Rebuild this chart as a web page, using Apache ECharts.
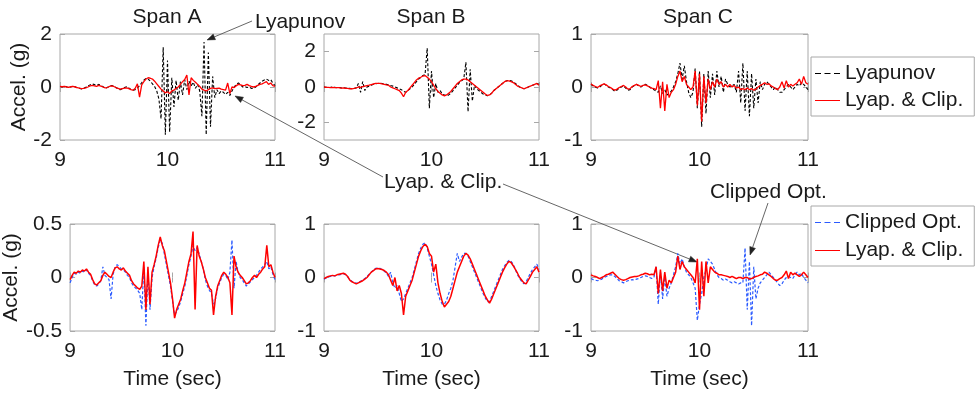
<!DOCTYPE html>
<html><head><meta charset="utf-8">
<script src="https://cdn.jsdelivr.net/npm/echarts@6/dist/echarts.min.js"></script>
<style>html,body{margin:0;padding:0;background:#fff}#c{width:977px;height:397px}</style>
</head><body><div id="c"></div><script>
// sampling: t = 9 + 0.02*i, i = 0..100
const T0 = 9, DT = 0.02;
const xTicks = [9, 10, 11];
const titles = ['Span A', 'Span B', 'Span C'];
const yTicksTopA = [-2, 0, 2];
const yTicksTopB = [-2, 0, 2];
const yTicksTopC = [-1, 0, 1];
const yTicksBotA = [-0.5, 0, 0.5];
const yTicksBotB = [-1, 0, 1];
const yTicksBotC = [-1, 0, 1];

// Top row: Lyapunov (black dashed) and Lyap. & Clip. (red)
const lyapA = [0.02,0.0,0.03,0.01,-0.02,0.0,0.03,0.01,-0.03,-0.05,
 -0.07,-0.05,-0.01,0.04,0.08,0.12,0.09,0.05,0.1,0.06,
 0.01,-0.04,-0.02,0.03,0.06,0.03,-0.02,-0.07,-0.1,-0.06,
 -0.02,0.01,-0.04,-0.09,-0.12,-0.1,-0.04,0.05,0.16,0.26,
 0.32,0.3,0.22,0.12,0.02,-0.15,-0.45,-1.2,1.5,-1.8,
 1.0,-1.7,0.35,-0.75,0.25,-0.5,0.2,-0.3,0.28,-0.1,
 0.22,0.05,0.18,-0.05,0.1,-0.15,-1.1,1.7,-1.8,1.3,
 -1.5,0.4,-0.4,-0.1,-0.25,-0.15,-0.2,-0.28,-0.2,-0.32,
 -0.15,0.0,0.1,0.15,0.08,0.0,0.02,-0.02,0.0,-0.05,
 -0.05,0.0,0.08,0.15,0.22,0.26,0.3,0.25,0.28,0.15,
 0.05];
const lcTopA = [0.02,0.01,0.02,0.0,-0.01,0.01,0.02,0.0,-0.02,-0.04,
 -0.06,-0.05,-0.03,0.0,0.04,0.06,0.04,0.02,0.06,0.03,
 0.0,-0.03,-0.02,0.02,0.04,0.02,-0.02,-0.05,-0.08,-0.06,
 -0.04,-0.03,-0.06,-0.1,-0.12,-0.05,0.12,-0.38,0.08,0.2,
 0.3,0.35,0.33,0.3,0.22,0.12,0.02,-0.08,-0.15,-0.22,
 -0.18,-0.25,-0.15,-0.12,-0.05,0.0,0.1,0.2,0.28,0.45,
 -0.3,0.35,0.25,0.18,0.1,0.02,-0.08,-0.12,-0.15,-0.1,
 -0.05,-0.03,-0.06,-0.05,-0.04,-0.08,-0.1,-0.12,0.15,-0.25,
 0.0,-0.02,0.05,0.1,0.08,0.05,0.06,0.1,0.05,0.02,
 0.0,0.02,0.06,0.1,0.12,0.16,0.2,0.1,0.15,0.05,
 0.02];
const lyapB = [0.0,-0.02,-0.03,-0.02,0.0,-0.02,-0.04,-0.03,-0.05,-0.04,
 -0.06,-0.05,-0.08,-0.1,-0.08,-0.05,0.2,-0.3,0.3,-0.2,
 0.0,0.05,0.1,0.15,0.18,0.2,0.22,0.2,0.18,0.15,
 0.12,0.08,0.05,0.0,-0.05,-0.1,-0.15,-0.25,-0.3,-0.2,
 -0.1,0.0,0.15,0.3,0.45,0.55,0.65,0.7,2.2,-1.2,
 0.9,-0.6,0.2,-0.3,-0.2,-0.4,-0.45,-0.5,-0.45,-0.35,
 -0.2,-0.05,0.1,0.25,0.35,0.45,1.4,-1.4,1.0,-0.8,
 0.1,-0.1,-0.2,-0.3,-0.4,-0.45,-0.5,-0.45,-0.35,-0.2,
 -0.1,0.0,0.1,0.2,0.3,0.35,0.38,0.35,0.3,0.2,
 0.1,0.0,-0.05,-0.1,-0.08,0.0,0.05,0.1,0.15,0.2,
 0.15];
const lcTopB = [0.0,-0.02,-0.02,-0.03,-0.02,-0.03,-0.04,-0.04,-0.06,-0.05,
 -0.07,-0.08,-0.1,-0.1,-0.08,-0.05,0.0,-0.02,0.02,0.05,
 0.08,0.1,0.14,0.17,0.2,0.2,0.2,0.18,0.15,0.12,
 0.1,0.0,-0.05,-0.1,-0.15,-0.2,-0.35,-0.55,-0.3,-0.2,
 -0.05,0.1,0.25,0.4,0.5,0.55,0.62,0.65,0.55,0.45,
 0.3,0.1,-0.1,-0.25,-0.35,-0.45,-0.5,-0.45,-0.35,-0.25,
 -0.1,0.05,0.2,0.3,0.4,0.45,0.45,0.4,0.3,0.2,
 0.1,0.0,-0.1,-0.2,-0.3,-0.4,-0.48,-0.45,-0.35,-0.2,
 -0.1,0.0,0.1,0.2,0.3,0.35,0.35,0.3,0.25,0.15,
 0.05,0.0,-0.05,-0.1,-0.05,0.0,0.05,0.1,0.15,0.2,
 0.1];
const lyapC = [0.05,0.02,0.0,-0.02,0.0,0.03,0.06,0.03,0.0,-0.02,
 -0.05,-0.08,-0.06,-0.02,0.0,0.02,-0.02,-0.06,-0.05,0.0,
 0.03,0.05,0.02,0.0,0.03,0.05,0.03,0.0,-0.03,-0.05,
 -0.08,-0.1,0.02,-0.12,-0.05,-0.15,-0.12,-0.08,0.0,0.1,
 0.25,0.45,0.15,0.4,0.1,-0.1,-0.2,-0.1,0.35,-0.4,
 0.3,-0.75,0.25,-0.5,0.3,-0.2,0.25,-0.15,0.3,0.0,
 0.2,-0.1,0.15,0.05,0.0,0.02,0.05,-0.1,0.3,-0.3,
 0.45,-0.45,0.3,-0.55,0.25,-0.4,0.15,-0.3,0.1,-0.05,
 0.05,0.1,0.05,0.0,-0.05,0.0,-0.05,-0.1,-0.1,-0.05,
 0.0,0.05,0.0,-0.05,0.0,0.05,0.02,0.08,0.05,0.0,
 -0.05];
const lcTopC = [0.06,0.03,0.01,-0.01,0.02,0.04,0.06,0.04,0.01,-0.01,
 -0.04,-0.06,-0.04,-0.01,0.01,0.03,0.0,-0.04,-0.03,0.01,
 0.03,0.05,0.03,0.01,0.03,0.04,0.02,0.0,-0.02,-0.03,
 -0.05,0.12,-0.4,0.1,-0.45,0.05,-0.2,-0.1,-0.05,0.05,
 0.2,0.3,0.1,0.2,0.05,0.0,-0.05,0.0,0.3,-0.35,
 0.25,-0.65,0.2,-0.3,0.15,-0.05,0.1,0.0,0.15,0.05,
 0.1,0.0,0.05,0.0,0.05,0.0,0.03,-0.02,0.0,-0.05,
 -0.03,-0.05,-0.02,-0.05,-0.03,-0.06,-0.04,0.0,0.03,0.05,
 0.08,0.05,0.06,0.02,0.0,-0.03,-0.05,0.0,0.1,-0.02,
 0.12,0.0,0.05,0.02,0.05,0.08,0.15,0.05,0.2,0.08,
 0.05];

// Bottom row: Clipped Opt. (blue dashed) and Lyap. & Clip. (red)
const clipA = [-0.05,0.0,0.04,0.03,0.05,0.04,0.06,0.05,0.07,0.04,
 0.02,-0.03,-0.07,-0.08,-0.06,-0.03,0.1,0.02,0.0,-0.02,
 -0.2,0.03,0.1,0.12,0.1,0.08,0.07,0.05,0.02,0.0,
 -0.05,-0.08,-0.1,-0.12,-0.15,-0.3,0.1,-0.45,0.05,-0.3,
 0.0,0.1,0.18,0.28,0.35,0.32,0.22,0.12,0.02,-0.08,
 -0.22,-0.35,-0.32,-0.28,-0.22,-0.15,-0.08,0.02,0.12,0.2,
 0.3,0.25,0.28,0.22,0.15,0.08,-0.02,-0.08,-0.12,-0.15,
 -0.25,-0.2,-0.1,-0.05,0.0,0.03,0.02,-0.02,0.05,0.35,
 -0.1,0.15,0.05,0.0,-0.02,-0.05,-0.08,-0.06,-0.04,-0.02,
 0.0,0.02,0.05,0.08,0.1,0.12,0.15,0.08,0.1,0.03,
 -0.02];
const lcBotA = [-0.02,0.02,0.05,0.04,0.06,0.05,0.07,0.06,0.08,0.05,
 0.03,-0.02,-0.06,-0.07,-0.05,-0.03,0.02,0.05,0.03,0.01,
 0.0,0.05,0.09,0.1,0.08,0.07,0.09,0.06,0.04,0.02,
 -0.03,-0.06,-0.08,-0.1,-0.11,-0.08,0.15,-0.3,0.1,-0.25,
 0.05,0.12,0.2,0.3,0.38,0.3,0.25,0.15,0.05,-0.05,
 -0.2,-0.38,-0.3,-0.25,-0.2,-0.12,-0.05,0.05,0.15,0.22,
 0.43,-0.3,0.3,0.2,0.15,0.08,0.0,-0.05,-0.1,-0.12,
 -0.35,-0.18,-0.08,-0.03,0.02,0.05,0.03,0.0,-0.05,-0.35,
 0.2,0.1,0.05,0.02,0.0,-0.03,-0.06,-0.05,-0.03,0.0,
 0.02,0.0,0.03,0.05,0.08,0.1,0.3,0.1,0.12,0.05,
 0.0];
const clipB = [-0.03,-0.01,0.01,0.02,0.03,0.03,0.04,0.05,0.06,0.07,
 0.05,0.01,-0.04,-0.07,-0.09,-0.11,-0.09,-0.07,-0.05,-0.02,
 0.02,0.06,0.1,0.14,0.17,0.18,0.17,0.15,0.12,0.08,
 0.02,0.1,-0.1,-0.2,-0.15,-0.3,-0.45,-0.4,-0.3,-0.2,
 -0.1,0.0,0.15,0.3,0.45,0.55,0.62,0.65,0.55,0.4,
 0.25,0.05,-0.15,-0.3,-0.42,-0.5,-0.5,-0.42,-0.3,-0.2,
 -0.05,0.2,0.45,0.3,0.38,0.45,0.45,0.4,0.3,0.2,
 0.1,0.0,-0.1,-0.2,-0.3,-0.38,-0.45,-0.45,-0.35,-0.25,
 -0.15,-0.05,0.05,0.15,0.22,0.28,0.32,0.3,0.25,0.15,
 0.05,-0.02,-0.08,-0.12,-0.08,0.0,0.08,0.15,0.2,0.25,
 0.15];
const lcBotB = [-0.02,0.0,0.02,0.03,0.04,0.03,0.05,0.06,0.07,0.08,
 0.06,0.02,-0.05,-0.08,-0.1,-0.12,-0.1,-0.08,-0.06,-0.03,
 0.0,0.05,0.1,0.13,0.16,0.17,0.16,0.15,0.13,0.1,
 0.05,-0.05,-0.15,0.0,-0.25,-0.15,-0.3,-0.7,-0.35,-0.25,
 -0.15,-0.05,0.1,0.25,0.4,0.5,0.58,0.62,0.58,0.45,
 0.4,0.1,0.25,-0.1,-0.3,-0.45,-0.55,-0.5,-0.45,-0.35,
 -0.2,-0.05,0.1,0.2,0.3,0.4,0.45,0.42,0.35,0.25,
 0.15,0.05,-0.05,-0.15,-0.25,-0.35,-0.42,-0.48,-0.4,-0.3,
 -0.2,-0.1,0.0,0.1,0.18,0.25,0.3,0.28,0.22,0.15,
 0.08,0.0,-0.05,-0.1,-0.12,-0.05,0.02,0.1,0.15,0.2,
 0.1];
const clipC = [-0.02,-0.04,-0.05,-0.06,-0.05,-0.03,0.0,0.02,0.04,0.05,
 0.05,0.02,-0.02,-0.06,-0.08,-0.1,-0.08,-0.06,-0.05,-0.04,
 -0.05,-0.03,-0.02,0.0,0.02,0.03,0.02,0.0,-0.02,0.0,
 0.2,-0.5,0.1,-0.4,0.0,-0.35,-0.2,-0.1,0.05,0.2,
 0.45,0.25,0.35,0.2,0.1,0.05,0.0,-0.1,-0.2,-0.8,
 -0.5,-0.3,0.0,0.15,0.35,0.3,0.25,0.15,0.05,0.0,
 -0.02,-0.05,-0.03,-0.05,-0.08,-0.1,-0.08,-0.1,-0.12,-0.1,
 -0.1,0.55,-0.6,0.3,-0.9,0.2,-0.4,-0.2,-0.1,-0.05,
 0.0,0.05,0.1,0.05,0.0,-0.05,-0.1,-0.15,-0.12,-0.05,
 0.0,0.02,0.0,-0.02,0.05,0.1,0.05,0.08,0.0,-0.05,
 -0.1];
const lcBotC = [0.05,0.03,0.02,0.0,-0.02,0.0,0.02,0.05,0.06,0.08,
 0.1,0.06,0.02,-0.02,-0.04,-0.05,-0.04,-0.02,0.0,0.01,
 0.02,0.02,0.03,0.05,0.06,0.08,0.07,0.05,0.06,0.05,
 0.2,-0.3,0.15,-0.25,0.1,-0.2,-0.05,-0.1,0.0,0.1,
 0.4,0.15,0.3,0.2,0.15,0.1,0.05,0.0,-0.1,0.35,
 -0.6,0.3,-0.35,0.3,-0.1,0.2,0.15,0.1,0.08,0.05,
 0.05,0.04,0.03,0.02,0.0,0.02,0.0,-0.02,0.0,0.0,
 -0.02,0.0,0.0,-0.03,-0.02,0.0,0.02,0.03,0.05,0.06,
 0.1,0.08,0.05,0.02,-0.02,-0.05,-0.05,-0.02,0.0,0.05,
 0.12,-0.02,0.1,0.05,0.08,0.05,0.02,0.05,0.1,0.05,
 0.0];

const FONT = 'Liberation Sans, Arial, Helvetica, sans-serif';
const TXT = '#1a1a1a';
const BOX = '#a8a8a8';
const RED = '#ff0000', BLACK = '#000000', BLUE = '#2b5bff';
const DASH_ICON = 'path://M0,0h6v1h-6z M9.5,0h6v1h-6z M19,0h6v1h-6z';
const SOLID_ICON = 'path://M0,0h25v1h-25z';

const grids = [
  {left: 60, top: 34, width: 215, height: 106},
  {left: 324, top: 34, width: 215, height: 106},
  {left: 591, top: 34, width: 217, height: 106},
  {left: 60, top: 224, width: 215, height: 107},
  {left: 324, top: 224, width: 215, height: 107},
  {left: 591, top: 224, width: 217, height: 107}
];
const yCfg = [
  {min: -2, max: 2, ticks: yTicksTopA},
  {min: -3, max: 3, ticks: yTicksTopB},
  {min: -1, max: 1, ticks: yTicksTopC},
  {min: -0.5, max: 0.5, ticks: yTicksBotA},
  {min: -1, max: 1, ticks: yTicksBotB},
  {min: -1, max: 1, ticks: yTicksBotC}
];

const xAxes = [], yAxes = [];
grids.forEach((g, i) => {
  const tick = {show: true, inside: true, length: 5, lineStyle: {color: BOX, width: 1}};
  xAxes.push({
    type: 'value', gridIndex: i, min: 9, max: 11, interval: 1, position: 'bottom',
    axisLine: {show: false}, splitLine: {show: false}, axisTick: tick,
    axisLabel: {fontSize: 21, color: TXT, fontFamily: FONT, margin: 10, customValues: xTicks},
    name: i >= 3 ? 'Time (sec)' : '', nameLocation: 'middle', nameGap: 38,
    nameTextStyle: {fontSize: 21, color: TXT, fontFamily: FONT}
  });
  xAxes.push({
    type: 'value', gridIndex: i, min: 9, max: 11, interval: 1, position: 'top',
    axisLine: {show: false}, splitLine: {show: false}, axisTick: tick,
    axisLabel: {show: false}
  });
  const c = yCfg[i];
  yAxes.push({
    type: 'value', gridIndex: i, min: c.min, max: c.max, position: 'left',
    axisLine: {show: false}, splitLine: {show: false},
    axisTick: Object.assign({customValues: c.ticks}, tick),
    axisLabel: {fontSize: 21, color: TXT, fontFamily: FONT, margin: 8, customValues: c.ticks},
    name: (i % 3 === 0) ? 'Accel. (g)' : '', nameLocation: 'middle', nameGap: 28, nameRotate: 90,
    nameTextStyle: {fontSize: 21, color: TXT, fontFamily: FONT}
  });
  yAxes.push({
    type: 'value', gridIndex: i, min: c.min, max: c.max, position: 'right',
    axisLine: {show: false}, splitLine: {show: false},
    axisTick: Object.assign({customValues: c.ticks}, tick),
    axisLabel: {show: false}
  });
});

function pts(arr) { return arr.map((v, i) => [+(T0 + DT * i).toFixed(2), v]); }
function ser(name, arr, gi, color, dashed, width) {
  return {
    type: 'line', name: name, xAxisIndex: gi * 2, yAxisIndex: gi * 2,
    data: pts(arr), symbol: 'none', showSymbol: false, silent: true,
    itemStyle: {color: color},
    lineStyle: {color: color, width: width, type: dashed ? [3, 2] : 'solid'}
  };
}
const series = [
  ser('Lyapunov', lyapA, 0, BLACK, true, 1.1), ser('Lyap. & Clip.', lcTopA, 0, RED, false, 1.3),
  ser('Lyapunov', lyapB, 1, BLACK, true, 1.1), ser('Lyap. & Clip.', lcTopB, 1, RED, false, 1.3),
  ser('Lyapunov', lyapC, 2, BLACK, true, 1.1), ser('Lyap. & Clip.', lcTopC, 2, RED, false, 1.3),
  ser('Clipped Opt.', clipA, 3, BLUE, true, 1.2), ser('Lyap. & Clip.', lcBotA, 3, RED, false, 1.5),
  ser('Clipped Opt.', clipB, 4, BLUE, true, 1.2), ser('Lyap. & Clip.', lcBotB, 4, RED, false, 1.5),
  ser('Clipped Opt.', clipC, 5, BLUE, true, 1.2), ser('Lyap. & Clip.', lcBotC, 5, RED, false, 1.5)
];

const titleCenters = [167, 431, 698];
const title = titles.map((t, i) => ({
  text: t, left: titleCenters[i], top: 7, textAlign: 'center', padding: 0,
  textStyle: {fontSize: 21, fontWeight: 'normal', color: TXT, fontFamily: FONT}
}));

const legendBase = {
  orient: 'vertical', padding: [6, 11, 5, 4], itemGap: 6, itemWidth: 25, itemHeight: 14,
  borderColor: BOX, borderWidth: 1, borderRadius: 0, backgroundColor: '#fff',
  textStyle: {fontSize: 21, color: TXT, fontFamily: FONT}
};
const legend = [
  Object.assign({}, legendBase, {left: 811, top: 57,
    data: [{name: 'Lyapunov', icon: DASH_ICON}, {name: 'Lyap. & Clip.', icon: SOLID_ICON}]}),
  Object.assign({}, legendBase, {left: 811, top: 206, itemGap: 7,
    data: [{name: 'Clipped Opt.', icon: DASH_ICON}, {name: 'Lyap. & Clip.', icon: SOLID_ICON}]})
];

// annotations
const annTexts = [
  {text: 'Lyapunov', x: 255, y: 22},
  {text: 'Lyap. & Clip.', x: 384, y: 182},
  {text: 'Clipped Opt.', x: 710, y: 192}
];
const arrows = [
  [252, 21, 207, 40],
  [383, 177, 235, 96],
  [503, 184, 697, 262],
  [768, 203, 750, 255]
];
const graphic = [];
annTexts.forEach(a => graphic.push({
  type: 'text', x: a.x, y: a.y, silent: true,
  style: {text: a.text, fill: TXT, font: '21px ' + FONT, verticalAlign: 'middle', align: 'left'}
}));
arrows.forEach(([x1, y1, x2, y2]) => {
  const ang = Math.atan2(y2 - y1, x2 - x1), L = 8, W = 3;
  const bx = x2 - L * Math.cos(ang), by = y2 - L * Math.sin(ang);
  const px = -Math.sin(ang) * W, py = Math.cos(ang) * W;
  graphic.push({type: 'line', silent: true, shape: {x1: x1, y1: y1, x2: bx, y2: by},
    style: {stroke: '#555', lineWidth: 0.9}});
  graphic.push({type: 'polygon', silent: true,
    shape: {points: [[x2, y2], [bx + px, by + py], [bx - px, by - py]]},
    style: {fill: '#222', stroke: '#222', lineWidth: 0.5}});
});

const chart = echarts.init(document.getElementById('c'), null, {renderer: 'canvas'});
chart.setOption({
  animation: false,
  backgroundColor: '#fff',
  title: title,
  legend: legend,
  grid: grids.map(g => Object.assign({show: true, borderColor: BOX, borderWidth: 1, backgroundColor: 'transparent'}, g)),
  xAxis: xAxes,
  yAxis: yAxes,
  series: series,
  graphic: graphic
});
</script></body></html>
